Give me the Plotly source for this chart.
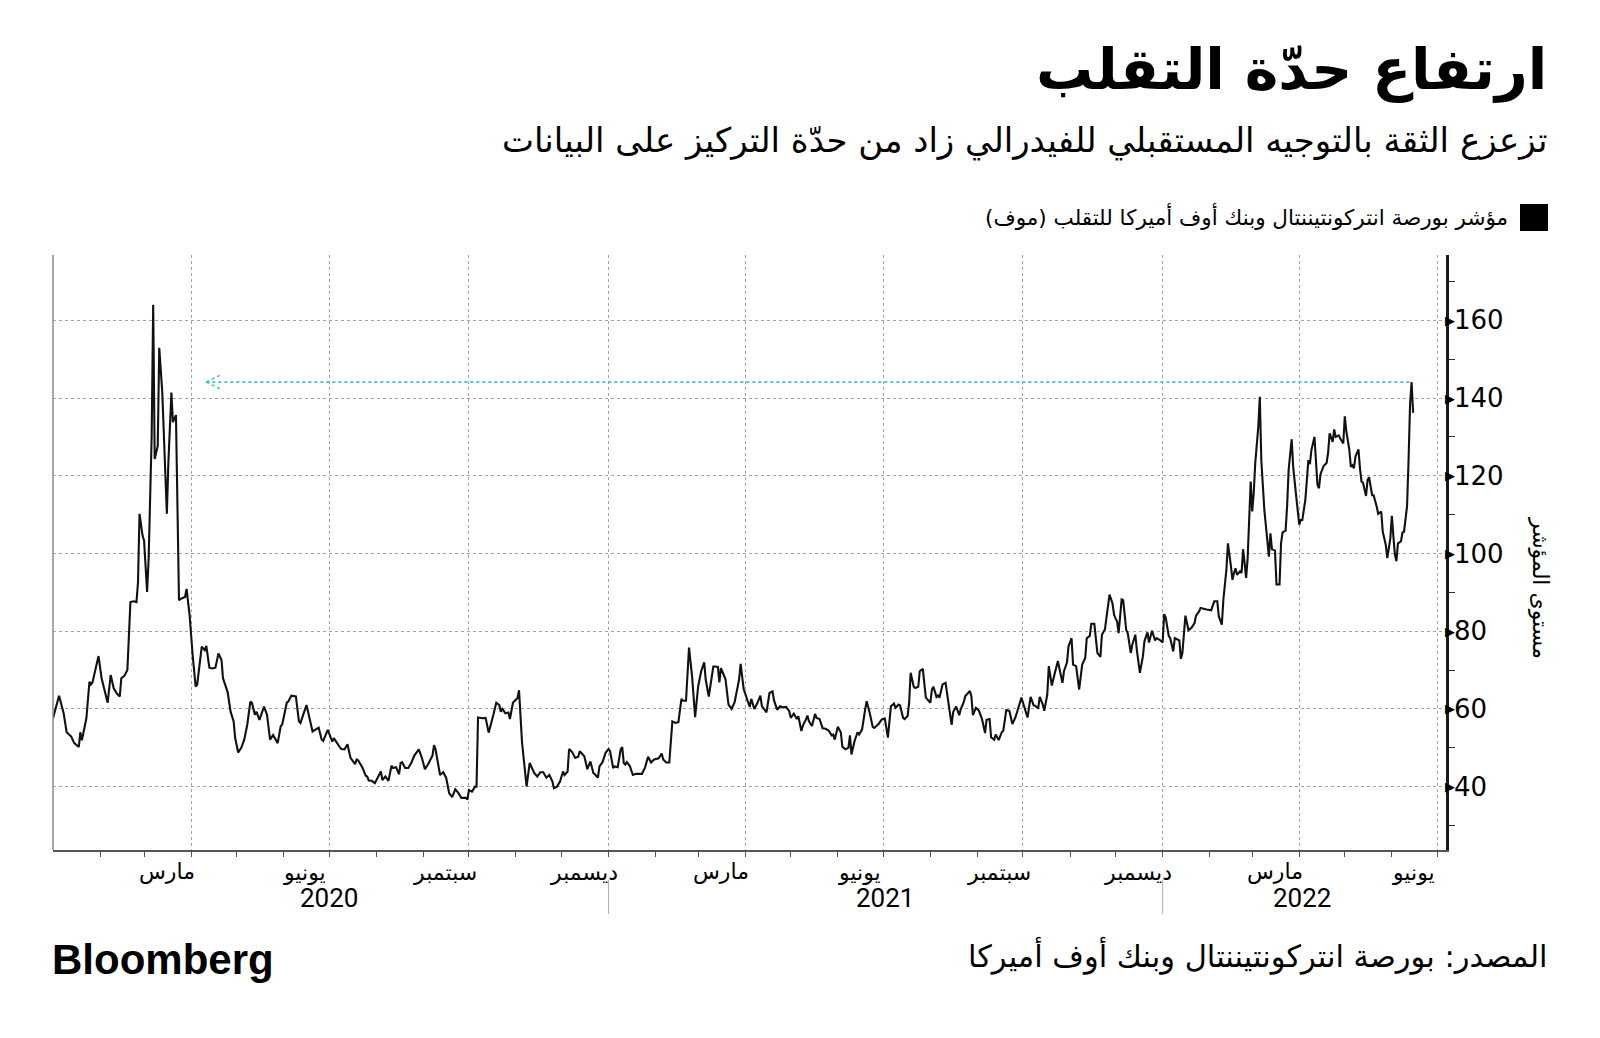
import pandas as pd
import plotly.graph_objects as go

# ---------------- data ----------------
# day offsets from 1 January of each year, and the MOVE index level
DAYS_2020 = [0, 4, 7, 9, 12, 14, 17, 18, 19, 22, 24, 25, 26, 29, 30, 32, 36, 38, 40, 42, 44, 45, 47, 49,
             51, 53, 55, 56, 57, 59, 60, 62, 63, 65, 66, 67, 69, 70, 72, 75, 76, 78, 79, 81, 83, 85, 87, 88,
             90, 92, 94, 95, 97, 98, 100, 101, 103, 105, 107, 109, 111, 112, 115, 117, 119, 120, 122, 124,
             126, 128, 130, 131, 133, 134, 136, 139, 141, 143, 145, 148, 150, 151, 154, 155, 157, 160, 162,
             163, 167, 170, 171, 175, 177, 178, 181, 184, 185, 189, 190, 192, 194, 196, 199, 200, 201, 204,
             206, 207, 208, 210, 212, 216, 217, 219, 221, 223, 224, 226, 228, 229, 230, 232, 234, 236, 238,
             241, 243, 245, 247, 250, 251, 252, 255, 257, 259, 261, 263, 265, 267, 269, 272, 273, 274, 276,
             278, 279, 280, 283, 285, 287, 289, 290, 292, 294, 295, 296, 298, 300, 301, 303, 306, 307, 309,
             310, 312, 314, 317, 319, 321, 323, 325, 327, 329, 330, 332, 334, 336, 337, 339, 340, 342, 344,
             346, 347, 350, 352, 354, 356, 357, 359, 360, 362, 364]
MOVE_2020 = [57.6, 63.4, 58.9, 54.0, 52.9, 51.2, 50.2, 54.0, 51.9, 57.6, 67.0, 66.3, 66.8, 71.7, 73.6, 67.9,
             61.6, 68.7, 65.3, 64.0, 63.2, 67.9, 68.5, 70.0, 87.5, 87.7, 87.5, 92.6, 110.2, 104.6, 103.3,
             90.1, 98.6, 130.3, 164.0, 124.3, 127.7, 152.9, 141.4, 110.2, 123.4, 141.4, 133.8, 135.6, 88.0,
             88.5, 88.8, 90.9, 84.1, 73.8, 65.7, 66.3, 73.0, 76.0, 75.1, 76.2, 70.6, 70.4, 70.6, 74.3, 72.6,
             67.9, 64.4, 59.3, 56.8, 52.5, 48.8, 50.0, 52.1, 56.0, 61.9, 61.6, 58.5, 59.3, 57.2, 60.6, 58.5,
             52.1, 53.3, 51.2, 55.5, 56.0, 61.6, 61.9, 63.4, 63.2, 56.8, 56.4, 61.0, 55.5, 54.2, 55.2, 52.1,
             51.8, 54.6, 51.6, 52.5, 50.1, 49.7, 49.6, 50.9, 47.4, 45.8, 47.0, 46.8, 44.8, 42.8, 42.6, 41.6,
             41.5, 40.9, 43.9, 41.7, 42.6, 41.5, 45.4, 44.8, 45.0, 43.2, 46.1, 46.3, 44.8, 44.8, 46.1, 48.0,
             49.6, 47.4, 44.5, 45.7, 48.0, 50.7, 49.6, 43.0, 43.7, 42.3, 38.3, 37.3, 39.3, 38.4, 37.1, 37.1,
             36.7, 39.1, 38.7, 40.0, 40.0, 57.8, 57.6, 57.7, 53.9, 57.4, 58.3, 61.6, 61.0, 59.3, 60.0, 58.9,
             59.1, 57.4, 61.6, 62.8, 64.8, 51.3, 47.0, 40.0, 46.1, 43.5, 42.6, 43.7, 43.7, 42.3, 43.0, 41.3,
             39.6, 40.0, 41.3, 43.9, 43.0, 43.9, 49.7, 48.9, 47.4, 47.7, 49.1, 47.8, 44.5, 46.5, 43.5, 43.2,
             42.3, 45.2, 46.3, 48.7]

DAYS_2021 = [0, 1, 3, 4, 6, 8, 9, 10, 11, 12, 14, 16, 18, 22, 24, 26, 28, 30, 33, 35, 36, 38, 40, 42, 44,
             46, 48, 49, 51, 53, 55, 57, 59, 61, 63, 64, 66, 69, 70, 72, 73, 74, 77, 79, 81, 83, 85, 86, 87,
             89, 91, 93, 94, 96, 98, 100, 101, 103, 104, 106, 108, 109, 111, 113, 115, 117, 119, 120, 122,
             124, 125, 127, 128, 130, 131, 132, 134, 136, 137, 139, 141, 143, 145, 147, 148, 149, 151, 153,
             154, 156, 158, 159, 160, 162, 164, 165, 167, 169, 170, 172, 174, 175, 178, 180, 182, 184, 186,
             188, 189, 191, 192, 194, 195, 197, 198, 199, 201, 202, 204, 205, 207, 209, 210, 212, 213, 214,
             216, 217, 218, 220, 222, 224, 226, 227, 229, 231, 232, 234, 235, 238, 239, 240, 242, 244, 246,
             248, 249, 251, 252, 254, 255, 257, 259, 260, 262, 264, 266, 268, 270, 272, 273, 276, 278, 280,
             281, 283, 284, 286, 287, 289, 290, 292, 294, 296, 297, 299, 300, 302, 303, 305, 306, 308, 310,
             311, 312, 314, 315, 317, 318, 320, 321, 322, 324, 325, 327, 328, 330, 332, 333, 334, 335, 336,
             338, 339, 341, 342, 344, 345, 347, 348, 350, 352, 353, 355, 356, 358, 360, 361, 363]
MOVE_2021 = [49.7, 49.1, 44.8, 45.2, 45.0, 49.6, 50.2, 46.1, 45.7, 46.3, 45.3, 43.0, 43.3, 43.3, 44.9, 47.7,
             46.2, 47.0, 47.3, 48.5, 47.0, 46.2, 46.2, 56.8, 56.4, 56.6, 62.6, 62.1, 62.1, 75.8, 68.4, 57.9,
             65.8, 69.7, 72.0, 67.5, 63.2, 70.9, 70.9, 70.8, 66.8, 70.5, 67.7, 61.1, 60.0, 61.7, 65.6, 67.7,
             71.6, 65.1, 62.8, 60.5, 62.6, 60.0, 61.5, 63.4, 60.7, 59.8, 59.1, 64.1, 64.5, 62.2, 59.8, 60.7,
             60.4, 60.5, 59.4, 57.7, 58.8, 57.4, 58.1, 54.3, 55.7, 57.3, 58.3, 56.8, 55.6, 58.7, 57.7, 57.4,
             55.0, 54.9, 54.4, 53.2, 53.4, 52.1, 55.4, 54.0, 50.3, 49.6, 50.0, 53.2, 48.3, 51.7, 54.0, 53.4,
             54.7, 59.8, 62.0, 59.0, 55.4, 55.1, 56.2, 57.3, 57.5, 52.6, 60.7, 61.4, 60.3, 61.1, 60.9, 57.7,
             57.4, 58.2, 61.6, 69.3, 65.7, 65.4, 65.7, 69.7, 70.3, 62.9, 62.5, 61.6, 65.0, 65.7, 63.1, 63.5,
             62.9, 66.3, 66.7, 60.8, 55.9, 59.2, 60.6, 58.4, 59.9, 61.8, 63.3, 64.6, 63.3, 58.4, 60.3, 59.5,
             57.4, 53.8, 57.2, 57.4, 52.7, 52.1, 53.4, 52.0, 54.0, 54.4, 59.7, 59.5, 56.1, 57.8, 60.1, 62.9,
             61.6, 57.8, 63.1, 60.9, 60.8, 60.1, 63.1, 61.2, 59.5, 63.7, 71.0, 66.0, 69.3, 72.3, 70.4, 66.7,
             69.7, 72.0, 76.1, 78.2, 71.4, 71.0, 65.0, 68.0, 71.4, 73.1, 78.2, 78.8, 81.9, 81.9, 78.8, 74.4,
             73.4, 79.1, 80.5, 83.3, 89.4, 87.1, 84.2, 83.3, 82.5, 79.5, 88.2, 88.0, 80.3, 79.5, 74.4, 76.5,
             79.1, 75.2, 69.3, 73.5, 77.4, 79.7, 77.1, 80.1, 77.6, 78.2, 77.8]

DAYS_2022 = [0, 1, 2, 4, 5, 7, 8, 9, 11, 12, 13, 15, 17, 19, 21, 22, 24, 25, 27, 29, 32, 34, 36, 37, 39,
             40, 42, 43, 45, 46, 47, 48, 49, 51, 52, 53, 54, 55, 56, 57, 58, 59, 60, 61, 63, 64, 65, 67, 68,
             69, 70, 71, 72, 74, 75, 77, 78, 79, 81, 82, 83, 85, 86, 88, 89, 90, 91, 92, 94, 96, 97, 98, 100,
             101, 102, 103, 104, 106, 108, 109, 110, 112, 113, 114, 116, 117, 119, 120, 121, 123, 124, 125,
             126, 127, 129, 130, 131, 132, 134, 135, 136, 138, 139, 141, 142, 144, 145, 147, 148, 150, 151,
             152, 153, 154, 155, 157, 158, 159, 161, 162, 163, 164, 165]
MOVE_2022 = [77.1, 84.4, 83.6, 78.8, 78.2, 74.8, 78.2, 78.0, 77.6, 72.9, 74.4, 84.0, 80.3, 80.9, 82.1, 84.0,
             85.1, 86.0, 85.7, 85.6, 85.4, 87.7, 87.7, 83.8, 81.7, 88.1, 95.8, 102.6, 96.7, 93.2, 95.0, 96.2,
             94.5, 95.4, 95.0, 101.1, 97.5, 93.7, 98.8, 107.8, 118.5, 110.8, 115.5, 123.2, 132.6, 140.3,
             124.0, 111.2, 106.9, 103.1, 99.2, 105.2, 101.1, 100.8, 92.0, 92.0, 102.6, 105.4, 105.9, 112.2,
             121.5, 129.4, 122.3, 114.6, 111.2, 107.4, 108.6, 108.6, 113.8, 124.0, 123.0, 126.6, 130.0, 124.9,
             117.6, 116.8, 120.4, 122.5, 123.3, 125.9, 130.9, 128.7, 131.9, 130.0, 130.4, 129.6, 128.3, 135.3,
             131.5, 126.6, 122.3, 122.7, 121.9, 124.9, 126.8, 121.9, 118.5, 118.2, 114.8, 118.9, 119.6, 115.0,
             115.0, 112.1, 110.2, 110.8, 105.6, 102.2, 98.8, 103.9, 109.7, 104.4, 99.7, 98.0, 102.6, 103.1,
             105.4, 105.6, 112.1, 124.0, 138.5, 144.1, 136.2]

X_RANGE = ["2020-01-01", "2022-07-06 16:00"]
Y_RANGE = [23.7, 176.8]
Y_TICKS = [40, 60, 80, 100, 120, 140, 160]
Y_MINOR = [30, 50, 70, 90, 110, 130, 150, 170]
QUARTER_GRID = ["2020-04-01", "2020-07-01", "2020-10-01", "2021-01-01", "2021-04-01",
                "2021-07-01", "2021-10-01", "2022-01-01", "2022-04-01", "2022-07-01"]
MONTH_LABEL_DATES = ["2020-03-16", "2020-06-15", "2020-09-15", "2020-12-16", "2021-03-16",
                     "2021-06-15", "2021-09-15", "2021-12-16", "2022-03-16", "2022-06-15"]
MONTH_LABELS = ["مارس", "يونيو", "سبتمبر", "ديسمبر", "مارس",
                "يونيو", "سبتمبر", "ديسمبر", "مارس", "يونيو"]
YEAR_LABEL_DATES = ["2020-07-01", "2021-07-02", "2022-04-03"]
YEAR_LABELS = ["2020", "2021", "2022"]
YEAR_BREAKS = ["2021-01-01", "2022-01-01"]
ARROW_TIP = "2020-04-11"

RLM = "\u200f"
TITLE = "ارتفاع حدّة التقلب"
SUBTITLE = "تزعزع الثقة بالتوجيه المستقبلي للفيدرالي زاد من حدّة التركيز على البيانات"
LEGEND = "مؤشر بورصة انتركونتيننتال وبنك أوف أميركا للتقلب (موف)"
Y_TITLE = "مستوى المؤشر"
SOURCE = "المصدر: بورصة انتركونتيننتال وبنك أوف أميركا"
BRAND = "Bloomberg"

# ---------------- build series ----------------
def to_dates(year, days):
    return list(pd.Timestamp(f"{year}-01-01") + pd.to_timedelta(days, unit="D"))

dates = to_dates(2020, DAYS_2020) + to_dates(2021, DAYS_2021) + to_dates(2022, DAYS_2022)
values = MOVE_2020 + MOVE_2021 + MOVE_2022
series = pd.Series(values, index=dates)
recent = series.iloc[-6:]
peak_date, peak_val = recent.idxmax(), recent.max()

# ---------------- layout geometry (pixels) ----------------
W, H = 1600, 1038
L, R, T, B = 53, 1446, 255, 850

def px(xp):
    return (xp - L) / (R - L)

def py(yp):
    return (B - yp) / (B - T)

AR_FONT = "DejaVu Sans"
CYAN = "#35c5d5"

fig = go.Figure()
fig.add_trace(go.Scatter(x=series.index, y=series.values, mode="lines",
                         line=dict(color="#111111", width=2.1), showlegend=False,
                         hoverinfo="skip"))

shapes = []
# dotted cyan reference arrow at the latest peak level
shapes.append(dict(type="line", xref="x", yref="y", x0=ARROW_TIP, x1=peak_date,
                   y0=peak_val, y1=peak_val, line=dict(color=CYAN, width=1.6, dash="dot")))
for sgn in (1, -1):
    shapes.append(dict(type="line", xref="x", yref="y", xsizemode="pixel", ysizemode="pixel",
                       xanchor=ARROW_TIP, yanchor=peak_val, x0=0, x1=16, y0=0, y1=8 * sgn,
                       line=dict(color=CYAN, width=1.6, dash="dot")))
# left border
shapes.append(dict(type="line", xref="paper", yref="paper", x0=0, x1=0, y0=0, y1=1,
                   line=dict(color="#8a8a8a", width=1.5)))
# year separators under the axis
for d in YEAR_BREAKS:
    shapes.append(dict(type="line", xref="x", yref="paper", x0=d, x1=d, y0=py(880), y1=py(914),
                       line=dict(color="#b0b0b0", width=1)))
# legend swatch
shapes.append(dict(type="rect", xref="paper", yref="paper", x0=px(1520), x1=px(1548),
                   y0=py(231), y1=py(204), fillcolor="#000000", line=dict(width=0)))

ann = []
ann.append(dict(text=RLM + TITLE + RLM, xref="paper", yref="paper", x=px(1549), y=py(69),
                xanchor="right", yanchor="middle", showarrow=False,
                font=dict(family=AR_FONT, size=57, color="#000000", weight="bold")))
ann.append(dict(text=RLM + SUBTITLE + RLM, xref="paper", yref="paper", x=px(1549), y=py(140),
                xanchor="right", yanchor="middle", showarrow=False,
                font=dict(family=AR_FONT, size=34, color="#000000")))
ann.append(dict(text=RLM + LEGEND + RLM, xref="paper", yref="paper", x=px(1510), y=py(216),
                xanchor="right", yanchor="middle", showarrow=False,
                font=dict(family=AR_FONT, size=21.5, color="#000000")))
ann.append(dict(text=RLM + Y_TITLE + RLM, xref="paper", yref="paper", x=px(1541), y=py(588),
                xanchor="center", yanchor="middle", showarrow=False, textangle=90,
                font=dict(family=AR_FONT, size=22, color="#000000")))
ann.append(dict(text=RLM + SOURCE + RLM, xref="paper", yref="paper", x=px(1549), y=py(955),
                xanchor="right", yanchor="middle", showarrow=False,
                font=dict(family=AR_FONT, size=30.5, color="#000000")))
ann.append(dict(text=BRAND, xref="paper", yref="paper", x=px(50), y=py(959),
                xanchor="left", yanchor="middle", showarrow=False,
                font=dict(family="Liberation Sans", size=42, color="#000000", weight="bold")))
for d, t in zip(MONTH_LABEL_DATES, MONTH_LABELS):
    ann.append(dict(text=t, xref="x", yref="paper", x=d, y=py(872), xanchor="center",
                    yanchor="middle", showarrow=False,
                    font=dict(family=AR_FONT, size=22, color="#000000")))
for d, t in zip(YEAR_LABEL_DATES, YEAR_LABELS):
    ann.append(dict(text=t, xref="x", yref="paper", x=d, y=py(898), xanchor="center",
                    yanchor="middle", showarrow=False,
                    font=dict(family="Roboto", size=26, color="#000000")))
for v in Y_TICKS:
    ann.append(dict(text="▶", xref="paper", yref="y", x=1, y=v, xanchor="left", yanchor="middle",
                    xshift=-3, showarrow=False, font=dict(family="DejaVu Sans", size=13, color="#000")))

fig.update_layout(
    width=W, height=H, paper_bgcolor="white", plot_bgcolor="white",
    margin=dict(l=L, r=W - R, t=T, b=H - B, pad=0),
    shapes=shapes, annotations=ann, showlegend=False,
    xaxis=dict(type="date", range=X_RANGE, tickmode="array", tickvals=QUARTER_GRID,
               ticktext=[""] * len(QUARTER_GRID), ticks="outside", ticklen=5, tickwidth=1,
               tickcolor="#555555", showgrid=True, griddash="dot", gridcolor="#a5a5a5",
               gridwidth=1, showline=True, linecolor="#555555", linewidth=2, zeroline=False,
               minor=dict(tickmode="array",
                          tickvals=list(pd.date_range("2020-02-01", "2022-07-01", freq="MS")),
                          ticks="outside", ticklen=5, tickwidth=1, tickcolor="#555555",
                          showgrid=False)),
    yaxis=dict(side="right", range=Y_RANGE, tickmode="array", tickvals=Y_TICKS,
               ticktext=[str(v) for v in Y_TICKS], ticks="", ticklabelstandoff=0,
               showgrid=True, griddash="dot", gridcolor="#a5a5a5", gridwidth=1,
               showline=True, linecolor="#1a1a1a", linewidth=2.5, zeroline=False,
               tickfont=dict(family="DejaVu Sans", size=26, color="#000000"),
               minor=dict(tickmode="array", tickvals=Y_MINOR, ticks="outside", ticklen=6,
                          tickwidth=1, tickcolor="#333333", showgrid=False)),
)

fig.write_html("out.html")
